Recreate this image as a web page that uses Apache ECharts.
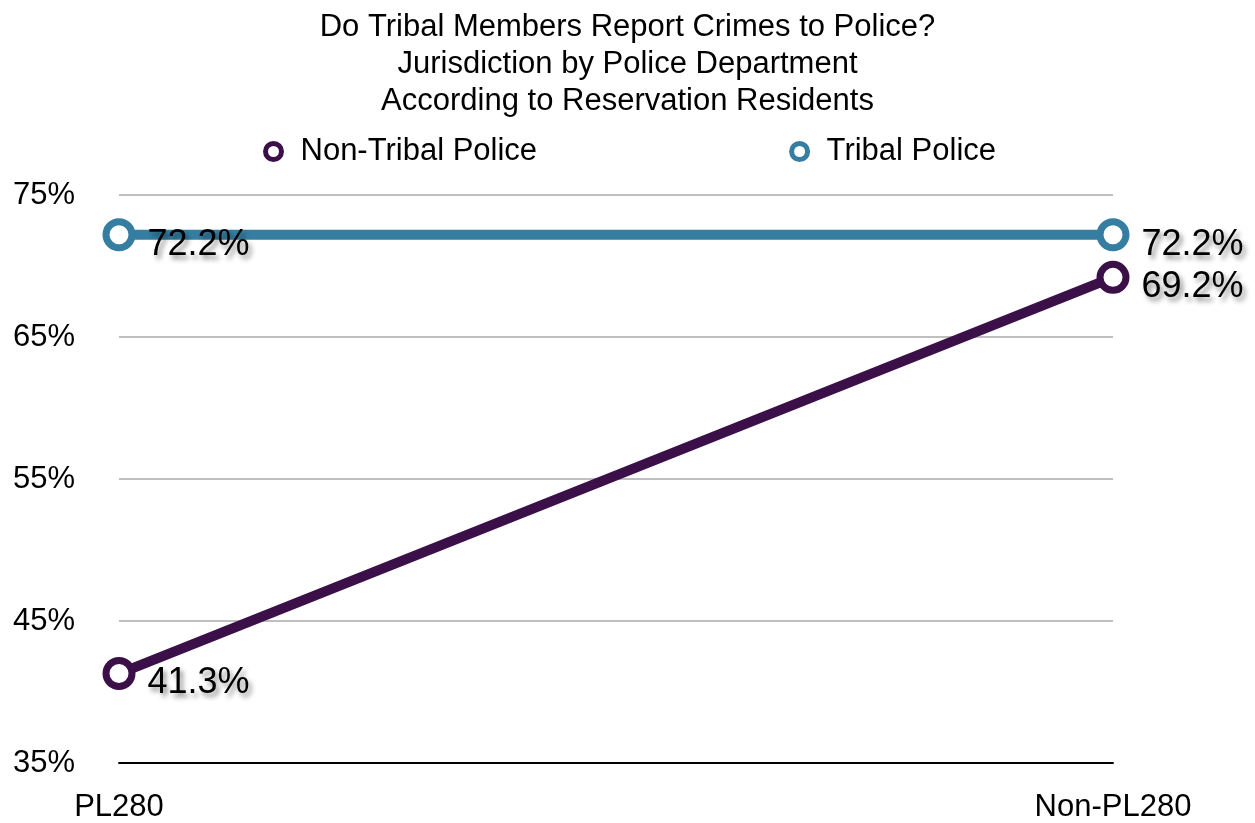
<!DOCTYPE html>
<html>
<head>
<meta charset="utf-8">
<script src="https://cdn.jsdelivr.net/npm/echarts@6/dist/echarts.min.js"></script>
<style>html,body{margin:0;padding:0;background:#fff;}#chart{width:1255px;height:823px;}</style>
</head>
<body>
<div id="chart"></div>
<script>
const categories = ['PL280', 'Non-PL280'];
const seriesNames = ['Non-Tribal Police', 'Tribal Police'];
const nonTribalValues = [41.3, 69.2];
const tribalValues = [72.2, 72.2];
const titleLines = ['Do Tribal Members Report Crimes to Police?', 'Jurisdiction by Police Department', 'According to Reservation Residents'];

const colors = ['#3b1049', '#357ea2'];
const FONT = 'Liberation Sans, Arial, sans-serif';

const chart = echarts.init(document.getElementById('chart'));

function makeSeries(name, data, color) {
  return {
    name: name,
    type: 'line',
    data: data,
    symbol: 'circle',
    symbolSize: 26,
    lineStyle: { color: color, width: 10 },
    itemStyle: { color: '#fff', borderColor: color, borderWidth: 7 },
    label: {
      show: true,
      position: 'right',
      distance: 12,
      offset: [0, 10],
      formatter: p => p.value.toFixed(1) + '%',
      fontFamily: FONT,
      fontSize: 36,
      color: '#000',
      textShadowColor: 'rgba(0,0,0,0.45)',
      textShadowBlur: 5,
      textShadowOffsetX: 3,
      textShadowOffsetY: 4
    },
    emphasis: { disabled: true },
    animation: false,
    z: 3
  };
}

chart.setOption({
  backgroundColor: '#fff',
  animation: false,
  title: {
    text: titleLines.join('\n'),
    left: 'center',
    top: 4,
    textStyle: { fontFamily: FONT, fontSize: 31, fontWeight: 'normal', color: '#000', lineHeight: 37 }
  },
  legend: {
    data: seriesNames.map((n, i) => ({ name: n, icon: 'circle', itemStyle: { color: '#fff', borderColor: colors[i], borderWidth: 5 } })),
    left: 258,
    top: 131,
    itemWidth: 16,
    itemHeight: 16,
    itemGap: 252,
    textStyle: { fontFamily: FONT, fontSize: 31, color: '#000', padding: [0, 0, 0, 14] }
  },
  grid: { left: 119, right: 142, top: 195, bottom: 58, containLabel: false },
  xAxis: {
    type: 'category',
    data: categories,
    boundaryGap: false,
    axisLine: { lineStyle: { color: '#000', width: 2 } },
    axisTick: { show: false },
    axisLabel: { fontFamily: FONT, fontSize: 31, color: '#000', margin: 29 }
  },
  yAxis: {
    type: 'value',
    min: 35,
    max: 75,
    interval: 10,
    axisLine: { show: false },
    axisTick: { show: false },
    splitLine: { lineStyle: { color: '#bfbfbf', width: 2 } },
    axisLabel: { fontFamily: FONT, fontSize: 31, color: '#000', margin: 44, formatter: '{value}%' }
  },
  series: [
    makeSeries(seriesNames[0], nonTribalValues, colors[0]),
    makeSeries(seriesNames[1], tribalValues, colors[1])
  ]
});
</script>
</body>
</html>
